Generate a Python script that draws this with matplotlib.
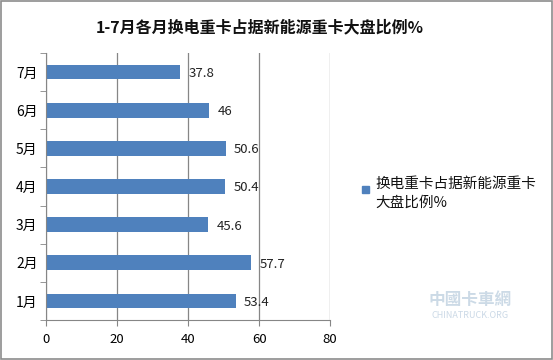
import matplotlib.pyplot as plt
from matplotlib.patches import Rectangle

plt.rcParams['font.family'] = ['Noto Sans CJK SC', 'DejaVu Sans']

months = ["1月", "2月", "3月", "4月", "5月", "6月", "7月"]
share = [53.4, 57.7, 45.6, 50.4, 50.6, 46, 37.8]
value_labels = ["53.4", "57.7", "45.6", "50.4", "50.6", "46", "37.8"]
x_ticks = [0, 20, 40, 60, 80]

title = "1-7月各月换电重卡占据新能源重卡大盘比例%"
legend_text = "换电重卡占据新能源重卡\n大盘比例%"

bar_color = "#4F81BD"
grid_color = "#868686"

fig = plt.figure(figsize=(5.53, 3.6), dpi=100)
ax = fig.add_axes([0.083, 0.111, 0.514, 0.742])

pos = list(range(len(months)))
ax.barh(pos, share, height=0.39, color=bar_color, zorder=3)
for p, v, lab in zip(pos, share, value_labels):
    ax.annotate(lab, (v, p), xytext=(6, -1), textcoords="offset points",
                va="center", ha="left", fontsize=9.5, color="#222222")

ax.set_xlim(0, 80)
ax.set_ylim(-0.5, len(months) - 0.5)
ax.set_xticks(x_ticks)
ax.set_yticks(pos)
ax.set_yticklabels(months, fontsize=10)
ax.tick_params(axis="x", labelsize=9.5, length=4, color=grid_color, pad=5)
ax.tick_params(axis="y", length=0, pad=6)
# category boundary ticks on the left spine
ax.set_yticks([p - 0.5 for p in pos] + [len(months) - 0.5], minor=True)
ax.tick_params(axis="y", which="minor", length=4, color=grid_color)

ax.grid(axis="x", color=grid_color, linewidth=0.9, zorder=0)
for side in ["top", "right"]:
    ax.spines[side].set_visible(False)
for side in ["left", "bottom"]:
    ax.spines[side].set_color(grid_color)
    ax.spines[side].set_zorder(4)

fig.text(0.47, 0.925, title, ha="center", va="center", fontsize=11.5,
         fontweight="bold", color="#111111")

# legend
fig.patches.append(Rectangle((362 / 553, 1 - 193 / 360), 7 / 553, 7 / 360,
                             transform=fig.transFigure, color=bar_color))
fig.text(375 / 553, 1 - 177 / 360, legend_text, ha="left", va="top",
         fontsize=10.5, color="#111111", linespacing=1.45)

# faint watermark
fig.text(470 / 553, 1 - 300 / 360, "中國卡車網", ha="center", va="center",
         fontsize=12, color="#9BB7CF", alpha=0.5, fontweight="bold")
fig.text(470 / 553, 1 - 315 / 360, "CHINATRUCK.ORG", ha="center", va="center",
         fontsize=6.5, color="#A9C0D6", alpha=0.6)

# figure border
fig.patches.append(Rectangle((0.002, 0.003), 0.996, 0.994, transform=fig.transFigure,
                             fill=False, edgecolor="#8C8C8C", linewidth=1.2))

fig.savefig("out.png", dpi=100)
